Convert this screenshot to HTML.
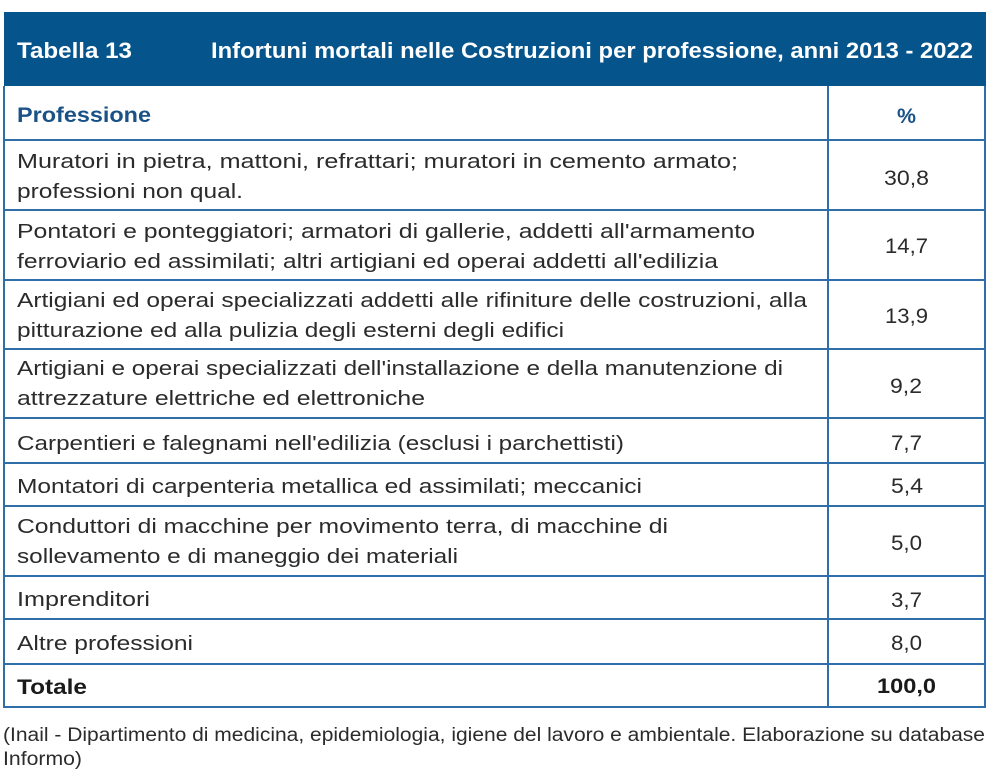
<!DOCTYPE html>
<html>
<head>
<meta charset="utf-8">
<style>
  html, body { margin: 0; padding: 0; background: #ffffff; }
  body { width: 998px; height: 777px; overflow: hidden; }
  svg { display: block; }
  .b { font-family: "Liberation Sans", "DejaVu Sans", sans-serif; font-size: 20px; fill: #2b2b2b; }
  .n { font-family: "Liberation Sans", "DejaVu Sans", sans-serif; font-size: 21px; fill: #2b2b2b; }
  .h { font-family: "Liberation Sans", "DejaVu Sans", sans-serif; font-size: 22px; font-weight: bold; fill: #ffffff; }
  .hb { font-family: "Liberation Sans", "DejaVu Sans", sans-serif; font-size: 21px; font-weight: bold; fill: #1a5288; }
  .t { font-family: "Liberation Sans", "DejaVu Sans", sans-serif; font-size: 21px; font-weight: bold; fill: #1a1a1a; }
  .f { font-family: "Liberation Sans", "DejaVu Sans", sans-serif; font-size: 19px; fill: #2b2b2b; }
</style>
</head>
<body>
<svg width="998" height="777" viewBox="0 0 998 777" xmlns="http://www.w3.org/2000/svg">
  <rect x="0" y="0" width="998" height="777" fill="#ffffff"/>
  <!-- header -->
  <rect x="4" y="12" width="982" height="74" fill="#05558c"/>
  <text class="h" x="17" y="58" textLength="115" lengthAdjust="spacingAndGlyphs">Tabella 13</text>
  <text class="h" x="211" y="58" textLength="762" lengthAdjust="spacingAndGlyphs">Infortuni mortali nelle Costruzioni per professione, anni 2013 - 2022</text>

  <!-- grid lines -->
  <g stroke="#2f6ea8" stroke-width="2" fill="none">
    <line x1="4" y1="86" x2="4" y2="708"/>
    <line x1="985" y1="86" x2="985" y2="708"/>
    <line x1="828" y1="86" x2="828" y2="708"/>
    <line x1="4" y1="140" x2="985" y2="140"/>
    <line x1="4" y1="210" x2="985" y2="210"/>
    <line x1="4" y1="280" x2="985" y2="280"/>
    <line x1="4" y1="349" x2="985" y2="349"/>
    <line x1="4" y1="418" x2="985" y2="418"/>
    <line x1="4" y1="463" x2="985" y2="463"/>
    <line x1="4" y1="506" x2="985" y2="506"/>
    <line x1="4" y1="576" x2="985" y2="576"/>
    <line x1="4" y1="619" x2="985" y2="619"/>
    <line x1="4" y1="664" x2="985" y2="664"/>
    <line x1="3" y1="707" x2="986" y2="707"/>
  </g>

  <!-- column header -->
  <text class="hb" x="17" y="122" textLength="134" lengthAdjust="spacingAndGlyphs">Professione</text>
  <text class="hb" x="897" y="123" textLength="19" lengthAdjust="spacingAndGlyphs">%</text>

  <!-- rows -->
  <text class="b" x="17" y="168" textLength="721" lengthAdjust="spacingAndGlyphs">Muratori in pietra, mattoni, refrattari; muratori in cemento armato;</text>
  <text class="b" x="17" y="198" textLength="226" lengthAdjust="spacingAndGlyphs">professioni non qual.</text>
  <text class="n" x="884" y="185" textLength="45" lengthAdjust="spacingAndGlyphs">30,8</text>

  <text class="b" x="17" y="238" textLength="738" lengthAdjust="spacingAndGlyphs">Pontatori e ponteggiatori; armatori di gallerie, addetti all'armamento</text>
  <text class="b" x="17" y="268" textLength="701" lengthAdjust="spacingAndGlyphs">ferroviario ed assimilati; altri artigiani ed operai addetti all'edilizia</text>
  <text class="n" x="885" y="253" textLength="43" lengthAdjust="spacingAndGlyphs">14,7</text>

  <text class="b" x="17" y="307" textLength="790" lengthAdjust="spacingAndGlyphs">Artigiani ed operai specializzati addetti alle rifiniture delle costruzioni, alla</text>
  <text class="b" x="17" y="337" textLength="547" lengthAdjust="spacingAndGlyphs">pitturazione ed alla pulizia degli esterni degli edifici</text>
  <text class="n" x="885" y="323" textLength="43" lengthAdjust="spacingAndGlyphs">13,9</text>

  <text class="b" x="17" y="375" textLength="766" lengthAdjust="spacingAndGlyphs">Artigiani e operai specializzati dell'installazione e della manutenzione di</text>
  <text class="b" x="17" y="405" textLength="408" lengthAdjust="spacingAndGlyphs">attrezzature elettriche ed elettroniche</text>
  <text class="n" x="890" y="393" textLength="32" lengthAdjust="spacingAndGlyphs">9,2</text>

  <text class="b" x="17" y="450" textLength="607" lengthAdjust="spacingAndGlyphs">Carpentieri e falegnami nell'edilizia (esclusi i parchettisti)</text>
  <text class="n" x="891" y="450" textLength="31" lengthAdjust="spacingAndGlyphs">7,7</text>

  <text class="b" x="17" y="493" textLength="625" lengthAdjust="spacingAndGlyphs">Montatori di carpenteria metallica ed assimilati; meccanici</text>
  <text class="n" x="891" y="493" textLength="32" lengthAdjust="spacingAndGlyphs">5,4</text>

  <text class="b" x="17" y="533" textLength="651" lengthAdjust="spacingAndGlyphs">Conduttori di macchine per movimento terra, di macchine di</text>
  <text class="b" x="17" y="563" textLength="441" lengthAdjust="spacingAndGlyphs">sollevamento e di maneggio dei materiali</text>
  <text class="n" x="891" y="550" textLength="31" lengthAdjust="spacingAndGlyphs">5,0</text>

  <text class="b" x="17" y="606" textLength="133" lengthAdjust="spacingAndGlyphs">Imprenditori</text>
  <text class="n" x="891" y="607" textLength="31" lengthAdjust="spacingAndGlyphs">3,7</text>

  <text class="b" x="17" y="650" textLength="176" lengthAdjust="spacingAndGlyphs">Altre professioni</text>
  <text class="n" x="891" y="650" textLength="31" lengthAdjust="spacingAndGlyphs">8,0</text>

  <text class="t" x="17" y="694" textLength="70" lengthAdjust="spacingAndGlyphs">Totale</text>
  <text class="t" x="877" y="693" textLength="59" lengthAdjust="spacingAndGlyphs">100,0</text>

  <!-- footer -->
  <text class="f" x="3" y="741" textLength="982" lengthAdjust="spacingAndGlyphs">(Inail - Dipartimento di medicina, epidemiologia, igiene del lavoro e ambientale. Elaborazione su database</text>
  <text class="f" x="3" y="765" textLength="79" lengthAdjust="spacingAndGlyphs">Informo)</text>
</svg>
</body>
</html>
